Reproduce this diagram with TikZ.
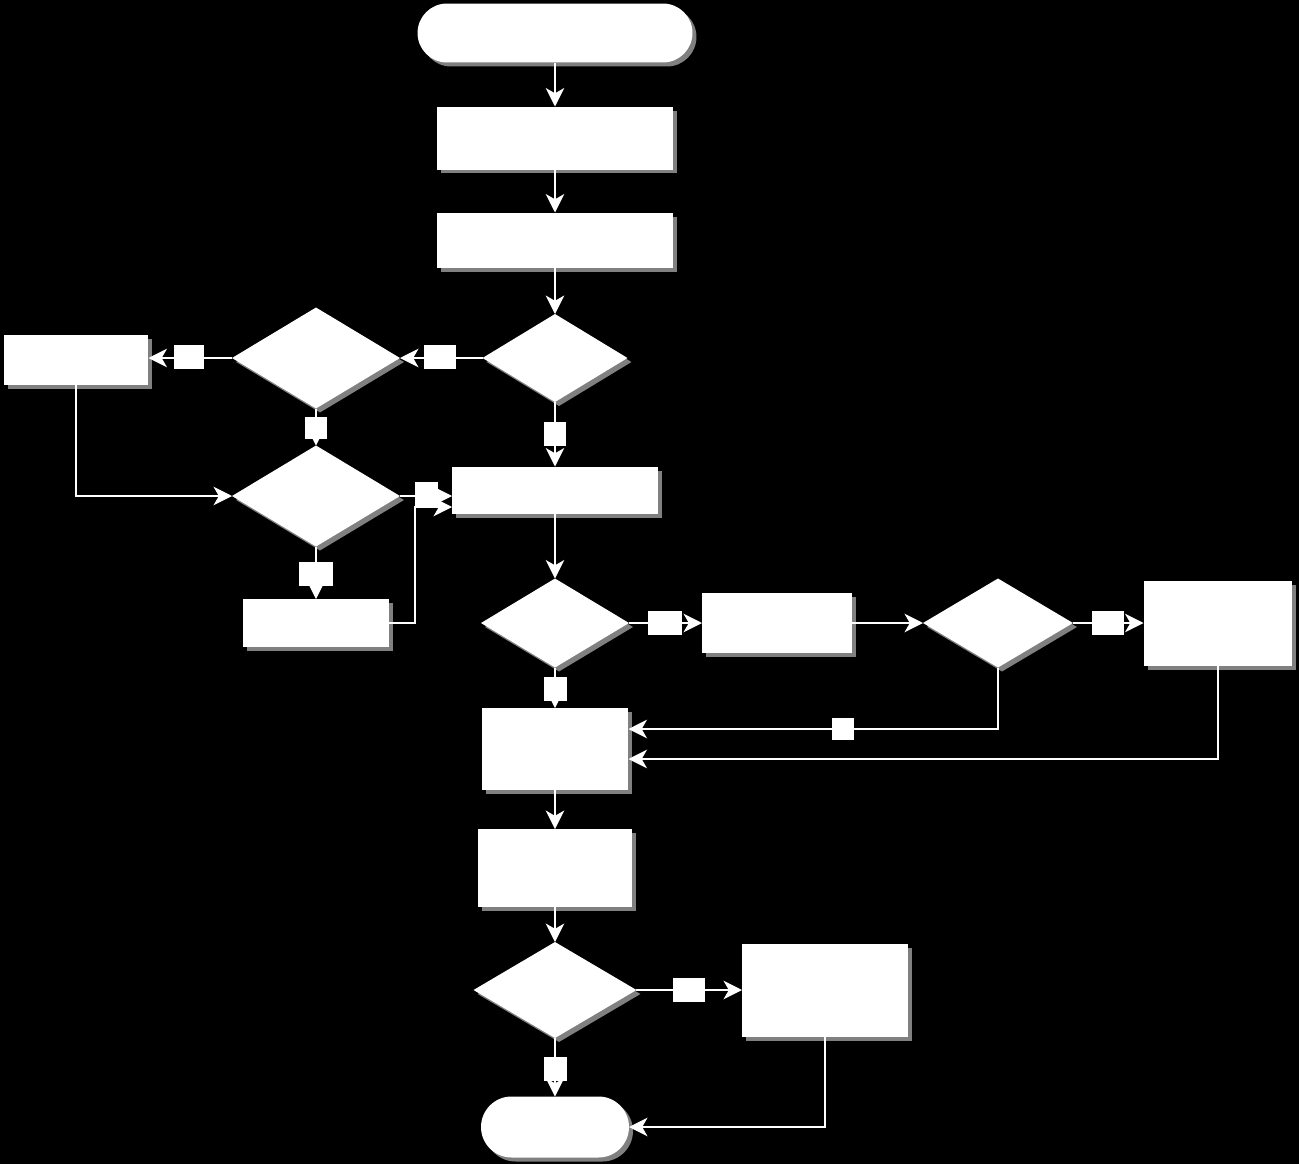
\documentclass[tikz,border=0pt]{standalone}
\usetikzlibrary{arrows.meta,shapes.geometric,shapes.misc,shadows}

\begin{document}
\begin{tikzpicture}[x=0.02cm, y=-0.02cm, >={Stealth[length=10.5pt,width=10.5pt,inset=3pt]},
	   shade/.style={drop shadow={shadow xshift=0.08cm, shadow yshift=-0.08cm, fill=gray, opacity=1}},
	   flowbox/.style={rectangle, fill=white, shade, inner sep=0pt, outer sep=0pt},
	   flowtest/.style={diamond, fill=white, shade, inner sep=0pt, outer sep=0pt},
	   flowterm/.style={rounded rectangle, fill=white, shade, inner sep=0pt, outer sep=0pt},
	   tagbox/.style={rectangle, fill=white, inner sep=0pt, minimum width=0.64cm, minimum height=0.48cm},
	   wire/.style={draw=white, line width=1.2pt, ->}]
	  \fill[black] (0,0) rectangle (1299,1164);
	  % main column
	  \node[flowterm, minimum width=5.5cm, minimum height=1.18cm] (start) at (555,33) {};
	  \node[flowbox, minimum width=4.72cm, minimum height=1.26cm] (p1) at (555,138) {};
	  \node[flowbox, minimum width=4.72cm, minimum height=1.1cm] (p2) at (555,240) {};
	  \node[flowtest, minimum width=2.9cm, minimum height=1.76cm] (q1) at (555,358) {};
	  \node[flowbox, minimum width=4.12cm, minimum height=0.94cm] (pm) at (555,490) {};
	  \node[flowtest, minimum width=2.96cm, minimum height=1.78cm] (q4) at (555,623) {};
	  \node[flowbox, minimum width=2.94cm, minimum height=1.64cm] (pm2) at (555,749) {};
	  \node[flowbox, minimum width=3.08cm, minimum height=1.56cm] (pm3) at (555,868) {};
	  \node[flowtest, minimum width=3.26cm, minimum height=1.92cm] (q6) at (555,990) {};
	  \node[flowterm, minimum width=2.96cm, minimum height=1.22cm] (stop) at (555,1127) {};
	  % left branch
	  \node[flowtest, minimum width=3.36cm, minimum height=2.02cm] (q2) at (316,358) {};
	  \node[flowbox, minimum width=2.9cm, minimum height=1.0cm] (pl) at (76,360) {};
	  \node[flowtest, minimum width=3.36cm, minimum height=2.02cm] (q3) at (316,496) {};
	  \node[flowbox, minimum width=2.94cm, minimum height=0.96cm] (p3) at (316,623) {};
	  % right branch
	  \node[flowbox, minimum width=3.0cm, minimum height=1.2cm] (pr1) at (777,623) {};
	  \node[flowtest, minimum width=3.0cm, minimum height=1.78cm] (q5) at (998,623) {};
	  \node[flowbox, minimum width=2.98cm, minimum height=1.7cm] (pr2) at (1218,623) {};
	  \node[flowbox, minimum width=3.32cm, minimum height=1.86cm] (pr3) at (825,990) {};
	  \coordinate (j1) at (415,507);
	  % connectors
	  \draw[wire] (start) -- (p1);
	  \draw[wire] (p1) -- (p2);
	  \draw[wire] (p2) -- (q1);
	  \draw[wire] (q1) -- (q2);
	  \draw[wire] (q2.west) -- (q2.west -| pl.east);
	  \draw[wire] (q2) -- (q3);
	  \draw[wire] (pl.south) |- (q3.west);
	  \draw[wire] (q3.east) -- (q3.east -| pm.west);
	  \draw[wire] (q3) -- (p3);
	  \draw[wire] (p3.east) -| (j1) -- (j1 -| pm.west);
	  \draw[wire] (q1) -- (pm);
	  \draw[wire] (pm) -- (q4);
	  \draw[wire] (q4) -- (pr1);
	  \draw[wire] (pr1) -- (q5);
	  \draw[wire] (q5) -- (pr2);
	  \draw[wire] (q4) -- (pm2);
	  \draw[wire] (q5.south) |- ([yshift=0.4cm]pm2.east);
	  \draw[wire] (pr2.south) |- ([yshift=-0.2cm]pm2.east);
	  \draw[wire] (pm2) -- (pm3);
	  \draw[wire] (pm3) -- (q6);
	  \draw[wire] (q6) -- (pr3);
	  \draw[wire] (q6) -- (stop);
	  \draw[wire] (pr3.south) |- (stop.east);
	  % branch tags
	  \node[tagbox] (t1) at (440,357) {};
	  \node[tagbox, minimum width=0.62cm] (t2) at (189,357) {};
	  \node[tagbox, minimum width=0.44cm, minimum height=0.44cm] (t3) at (316,428) {};
	  \node[tagbox, minimum width=0.46cm, minimum height=0.5cm] (t4) at (426,494) {};
	  \node[tagbox, minimum width=0.44cm] (t5) at (555,434) {};
	  \node[tagbox, minimum width=0.68cm] (t6) at (665,623) {};
	  \node[tagbox] (t7) at (1108,623) {};
	  \node[tagbox, minimum width=0.46cm] (t8) at (555,689) {};
	  \node[tagbox, minimum width=0.44cm, minimum height=0.44cm] (t9) at (843,729) {};
	  \node[tagbox] (t10) at (689,990) {};
	  \node[tagbox, minimum width=0.46cm] (t11) at (555,1069) {};
	  \node[tagbox, minimum width=0.68cm, minimum height=0.48cm] (t12) at (316,574) {};
\end{tikzpicture}
\end{document}
